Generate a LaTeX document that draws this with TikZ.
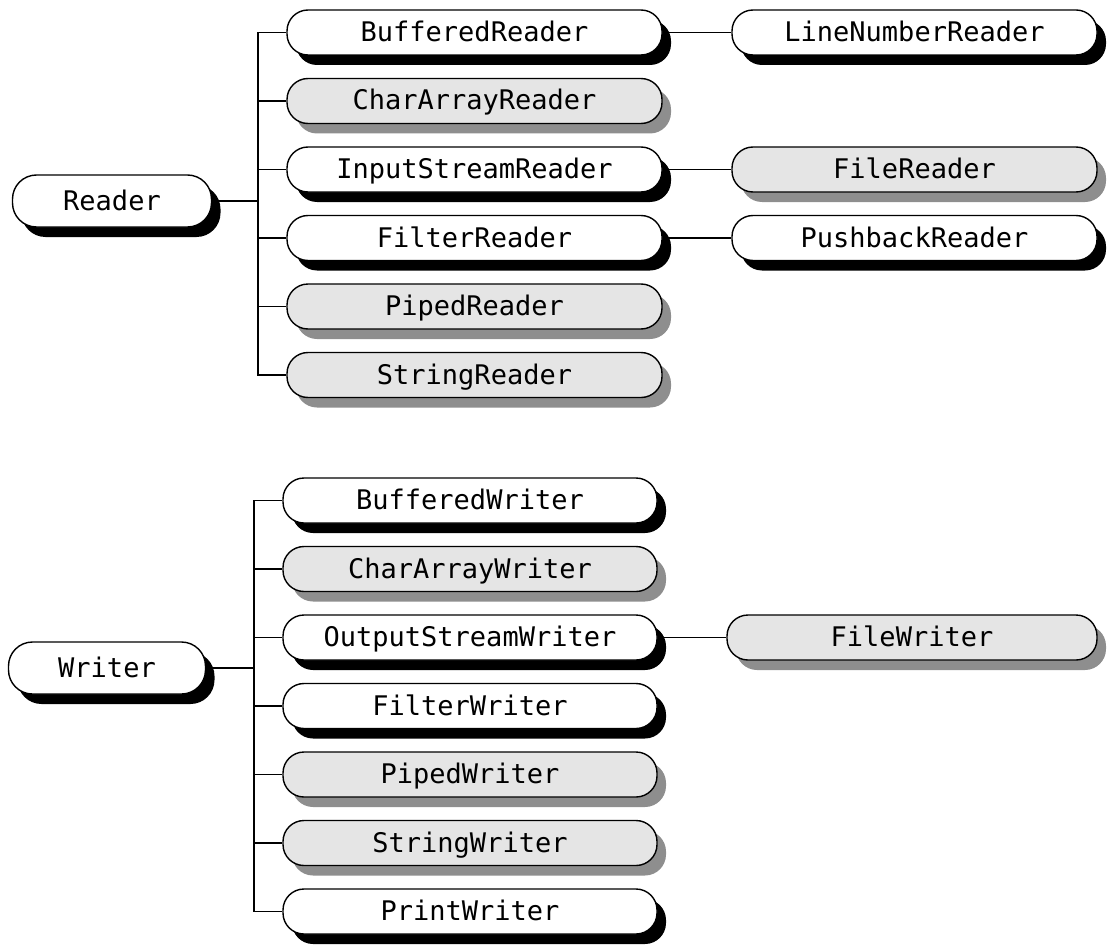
\documentclass[tikz,border=0pt]{standalone}
\usepackage{fontspec}
\setmonofont{DejaVu Sans Mono}
\usetikzlibrary{shadows}
\definecolor{boxgray}{RGB}{229,229,229}
\definecolor{shadegray}{RGB}{142,142,142}
\tikzset{
  cls/.style={draw, line width=1.4pt, rounded corners=21pt, inner sep=0pt,
    minimum height=45pt, text height=20pt, text depth=2pt,
    font=\fontsize{27}{30}\selectfont\ttfamily},
  plain/.style={cls, fill=white,
    drop shadow={shadow xshift=9pt, shadow yshift=-10pt, fill=black, opacity=1}},
  final/.style={cls, fill=boxgray,
    drop shadow={shadow xshift=9pt, shadow yshift=-10pt, fill=shadegray, opacity=1}},
  root/.style={plain, minimum height=52pt, rounded corners=24pt},
  link/.style={line width=1.8pt}
}
\begin{document}
\begin{tikzpicture}[x=1pt,y=-1pt]
\useasboundingbox (0,0) rectangle (1107,944);

% Reader tree
\node[root, minimum width=199pt] (reader) at (112,201) {Reader};
\node[plain, minimum width=375pt] (bufreader) at (474.5,32.5) {BufferedReader};
\node[final, minimum width=375pt] (chararrreader) at (474.5,101) {CharArrayReader};
\node[plain, minimum width=375pt] (isreader) at (474.5,169.5) {InputStreamReader};
\node[plain, minimum width=375pt] (filtreader) at (474.5,238) {FilterReader};
\node[final, minimum width=375pt] (pipedreader) at (474.5,306.5) {PipedReader};
\node[final, minimum width=375pt] (strreader) at (474.5,375) {StringReader};
\node[plain, minimum width=365pt] (lnreader) at (914.5,32.5) {LineNumberReader};
\node[final, minimum width=365pt] (filereader) at (914.5,169.5) {FileReader};
\node[plain, minimum width=365pt] (pbreader) at (914.5,238) {PushbackReader};

% Writer tree
\node[root, minimum width=197pt] (writer) at (107,668) {Writer};
\node[plain, minimum width=374pt] (bufwriter) at (470,500.5) {BufferedWriter};
\node[final, minimum width=374pt] (chararrwriter) at (470,569) {CharArrayWriter};
\node[plain, minimum width=374pt] (oswriter) at (470,637.5) {OutputStreamWriter};
\node[plain, minimum width=374pt] (filtwriter) at (470,706) {FilterWriter};
\node[final, minimum width=374pt] (pipedwriter) at (470,774.5) {PipedWriter};
\node[final, minimum width=374pt] (strwriter) at (470,843) {StringWriter};
\node[plain, minimum width=374pt] (printwriter) at (470,911.5) {PrintWriter};
\node[final, minimum width=370pt] (filewriter) at (912,637.5) {FileWriter};

%Straight Lines: trunks
\coordinate (rtrunk) at (258,201);
\coordinate (wtrunk) at (254,668);
\draw[link] (reader.east) -- (rtrunk);
\foreach \c in {bufreader,chararrreader,isreader,filtreader,pipedreader,strreader}
  \draw[link] (rtrunk) |- (\c.west);
\draw[link] (writer.east) -- (wtrunk);
\foreach \c in {bufwriter,chararrwriter,oswriter,filtwriter,pipedwriter,strwriter,printwriter}
  \draw[link] (wtrunk) |- (\c.west);

%Straight Lines: second level
\draw[link] (bufreader.east) -- (lnreader.west);
\draw[link] (isreader.east) -- (filereader.west);
\draw[link] (filtreader.east) -- (pbreader.west);
\draw[link] (oswriter.east) -- (filewriter.west);

\end{tikzpicture}
\end{document}
